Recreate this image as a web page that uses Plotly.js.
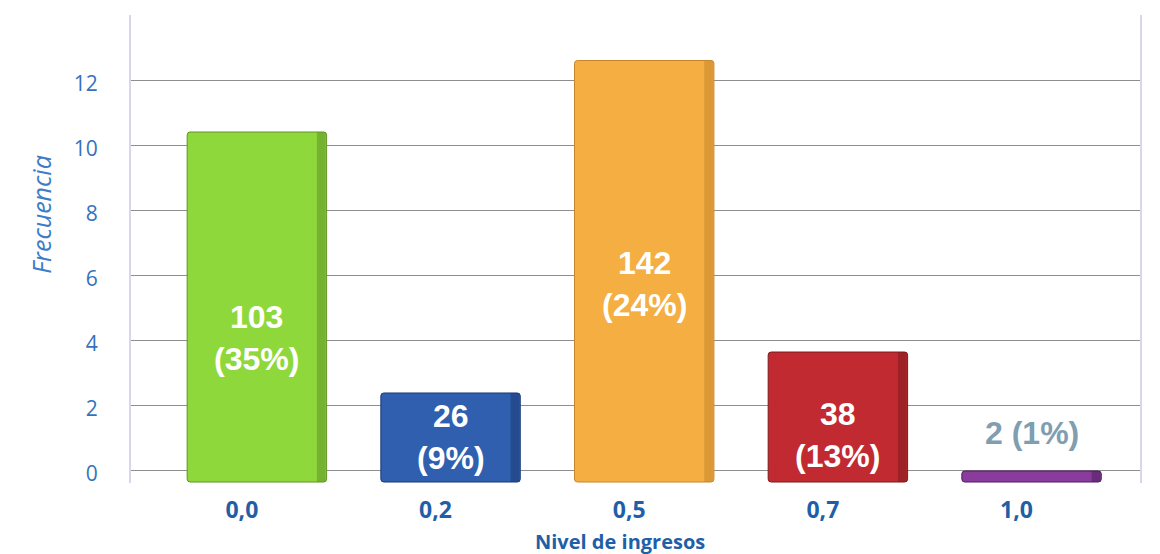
<!DOCTYPE html>
<html>
<head>
<meta charset="utf-8">
<script src="https://cdn.plot.ly/plotly-3.0.1.min.js"></script>
<style>html,body{margin:0;padding:0;background:#fff;}#chart{width:1160px;height:554px;}</style>
</head>
<body>
<div id="chart"></div>
<script>
// Data
const categories = ['0,0', '0,2', '0,5', '0,7', '1,0'];
const barTops = [10.4, 2.37, 12.6, 3.63, -0.03];   // bar top, in y-axis units
const counts = [103, 26, 142, 38, 2];
const percents = [35, 9, 24, 13, 1];
const yTickVals = [0, 2, 4, 6, 8, 10, 12, 14];
const yTickText = ['0', '2', '4', '6', '8', '10', '12', ''];
const xTitle = 'Nivel de ingresos';
const yTitle = 'Frecuencia';

// Style
const BASE = -0.37;
const colors = ['#8fd83c', '#2f5fae', '#f4ae42', '#c02a30', '#8a3c9e'];
const edgeColors = ['#5f9424', '#1c3b78', '#c6872c', '#801a1e', '#4f1d5e'];
const labelShift = [-206, -44, -223, -83, 38];   // px offset of each label from its bar top
const labelColor = ['#ffffff', '#ffffff', '#ffffff', '#ffffff', '#7f9eb0'];
const labelFont = 'Liberation Sans, Arial, sans-serif';
const idx = categories.map((_, i) => i);

const traces = [{
  type: 'bar',
  x: idx,
  y: barTops.map(t => t - BASE),
  base: idx.map(() => BASE),
  width: 0.72,
  marker: {color: colors, line: {color: edgeColors, width: 1}, cornerradius: 3},
  hoverinfo: 'skip'
}, {
  // darker right side for a slight 3D look
  type: 'bar',
  x: idx,
  y: barTops.map(t => t - BASE),
  base: idx.map(() => BASE),
  width: 0.045,
  offset: 0.31,
  marker: {color: edgeColors, opacity: 0.55, line: {width: 0}},
  hoverinfo: 'skip'
}];

const annotations = idx.map(i => ({
  x: i, y: barTops[i], xref: 'x', yref: 'y',
  text: i < 4 ? counts[i] + '<br>(' + percents[i] + '%)' : counts[i] + ' (' + percents[i] + '%)',
  showarrow: false, yshift: labelShift[i],
  font: {family: labelFont, size: 32, color: labelColor[i], weight: 'bold'}
}));
annotations.push({
  text: xTitle, xref: 'paper', yref: 'paper', x: 0.485, y: 0, yshift: -58,
  showarrow: false, xanchor: 'center', yanchor: 'middle',
  font: {family: 'Open Sans, sans-serif', size: 20, color: '#1f5fa8', weight: 'bold'}
});
annotations.push({
  text: yTitle, xref: 'paper', yref: 'paper', x: 0, xshift: -90, y: 0.573,
  textangle: -90, showarrow: false, xanchor: 'center', yanchor: 'middle',
  font: {family: 'Open Sans, sans-serif', size: 25, color: '#3d7cc6', style: 'italic'}
});

const layout = {
  width: 1160, height: 554,
  margin: {l: 131, r: 20, t: 15, b: 71},
  paper_bgcolor: '#ffffff', plot_bgcolor: '#ffffff',
  showlegend: false,
  barmode: 'overlay',
  xaxis: {
    range: [-0.65, 4.56],
    tickmode: 'array', tickvals: idx, ticktext: categories,
    showgrid: false, zeroline: false, showline: false,
    ticks: 'outside', ticklen: 6, tickcolor: 'rgba(0,0,0,0)',
    ticklabelshift: -15,
    tickfont: {family: 'Open Sans, sans-serif', size: 23, color: '#1f5fa8', weight: 'bold'}
  },
  yaxis: {
    range: [-0.4, 14],
    tickmode: 'array', tickvals: yTickVals, ticktext: yTickText,
    showgrid: true, gridcolor: '#8e8e8e', gridwidth: 1,
    zeroline: false,
    showline: true, linecolor: '#d6d6ec', linewidth: 2, mirror: true,
    ticks: 'outside', ticklen: 27, tickcolor: 'rgba(0,0,0,0)',
    ticklabelshift: 4,
    tickfont: {family: 'Open Sans, sans-serif', size: 21, color: '#3572bd'}
  },
  annotations: annotations
};

Plotly.newPlot('chart', traces, layout, {displayModeBar: false, staticPlot: true});
</script>
</body>
</html>
